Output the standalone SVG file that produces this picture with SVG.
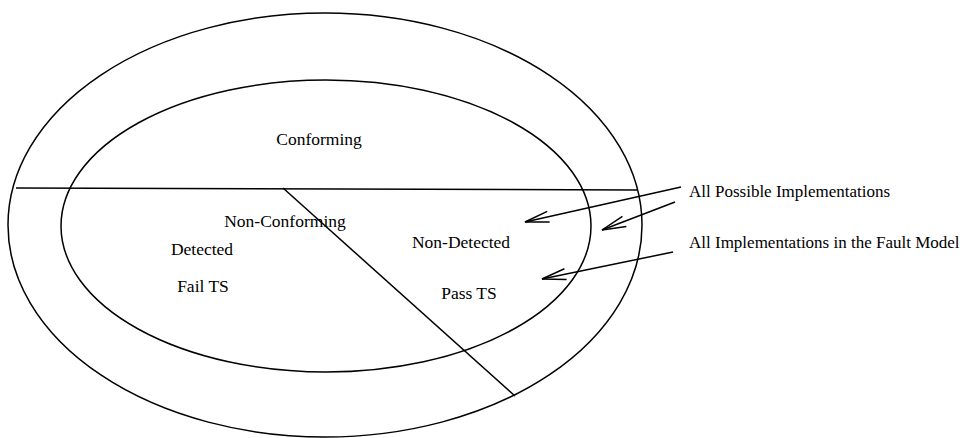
<svg xmlns="http://www.w3.org/2000/svg" width="979" height="438" viewBox="0 0 979 438">
  <style>
    .ln { fill: none; stroke: #000; stroke-width: 1.5; }
    .lbl { font-family: "Liberation Serif", "Times New Roman", serif; font-size: 17.5px; fill: #000; }
    .key { font-size: 17px; }
  </style>
  <defs>
    <!-- open V arrowhead, tip at the line end -->
    <marker id="open" viewBox="0 0 26 14" refX="25" refY="7" markerWidth="26" markerHeight="14" markerUnits="userSpaceOnUse" orient="auto">
      <path d="M1,1.5 L25,7 L1,12.5" fill="none" stroke="#000" stroke-width="1.5"/>
    </marker>
  </defs>
  <rect width="979" height="438" fill="#fff"/>

  <g id="all-possible">
    <ellipse class="ln" cx="325" cy="225" rx="317" ry="212"/>
  </g>
  <g id="fault-model">
    <ellipse class="ln" cx="326" cy="226" rx="265" ry="146"/>
  </g>

  <g id="dividers">
    <line class="ln" x1="16" y1="188" x2="637" y2="190"/>
    <line class="ln" x1="283" y1="188" x2="515" y2="396"/>
  </g>

  <g id="region-labels">
    <text class="lbl" x="319" y="145" text-anchor="middle">Conforming</text>
    <text class="lbl" x="285" y="227" text-anchor="middle">Non-Conforming</text>
    <text class="lbl" x="202" y="255" text-anchor="middle">Detected</text>
    <text class="lbl" x="203" y="292" text-anchor="middle">Fail TS</text>
    <text class="lbl" x="461" y="248" text-anchor="middle">Non-Detected</text>
    <text class="lbl" x="469" y="299" text-anchor="middle">Pass TS</text>
  </g>

  <g id="legend">
    <text class="lbl key" x="689" y="197">All Possible Implementations</text>
    <text class="lbl key" x="689" y="248">All Implementations in the Fault Model</text>
  </g>

  <g id="connectors">
    <line class="ln" x1="681" y1="187" x2="525" y2="222" marker-end="url(#open)"/>
    <line class="ln" x1="675" y1="202" x2="602" y2="230" marker-end="url(#open)"/>
    <line class="ln" x1="673" y1="252" x2="542" y2="279" marker-end="url(#open)"/>
  </g>
</svg>
